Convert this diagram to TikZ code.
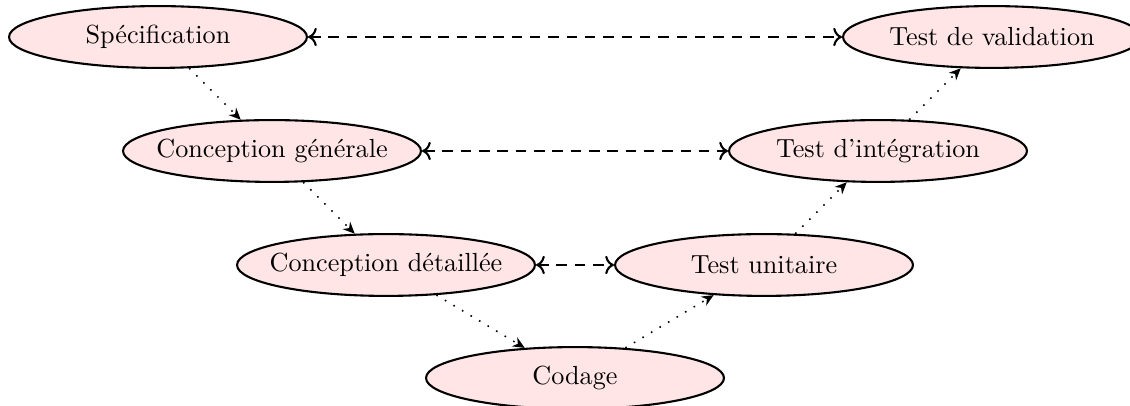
\documentclass[tikz,border=0pt]{standalone}
\usetikzlibrary{shapes.geometric,arrows.meta}
\newcommand{\zw}[1]{\makebox[0pt]{#1}}
\begin{document}
\begin{tikzpicture}[x=0.382pt,y=-0.382pt,
  phase/.style={ellipse,draw,thick,fill=red!10,minimum width=4cm,minimum height=0.83cm,inner sep=0pt},
  link/.style={thick,dash pattern=on 4pt off 3pt,<->},
  flow/.style={line width=0.6pt,dash pattern=on 0.6pt off 3.2pt,-{Stealth[length=4.5pt,width=4pt]}}]
\clip (0,0) rectangle (1130,406);
\useasboundingbox (0,0) rectangle (1130,406);
\node[phase] (spec) at (158,37) {\zw{Spécification}};
\node[phase] (cg) at (272,151) {\zw{Conception générale}};
\node[phase] (cd) at (386,265) {\zw{Conception détaillée}};
\node[phase] (cod) at (575,378) {\zw{Codage}};
\node[phase] (tu) at (764,265) {\zw{Test unitaire}};
\node[phase] (ti) at (878,151) {\zw{Test d’intégration}};
\node[phase] (tv) at (992,37) {\zw{Test de validation}};
\draw[flow] (spec) -- (cg);
\draw[flow] (cg) -- (cd);
\draw[flow] (cd) -- (cod);
\draw[flow] (cod) -- (tu);
\draw[flow] (tu) -- (ti);
\draw[flow] (ti) -- (tv);
\draw[link] (spec) -- (tv);
\draw[link] (cg) -- (ti);
\draw[link] (cd) -- (tu);
\end{tikzpicture}
\end{document}
